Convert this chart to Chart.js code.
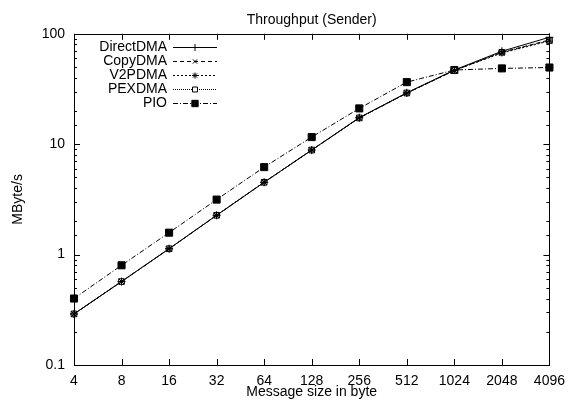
<!DOCTYPE html>
<html>
<head>
<meta charset="utf-8">
<script src="https://cdn.jsdelivr.net/npm/chart.js@4.4.1/dist/chart.umd.min.js"></script>
<style>
  html, body { margin: 0; padding: 0; background: #fff; }
  #wrap { width: 573px; height: 401px; }
</style>
</head>
<body>
<div id="wrap"><canvas id="chart" width="573" height="401"></canvas></div>
<script>
// ---------- DATA ----------
const sizes = ["4", "8", "16", "32", "64", "128", "256", "512", "1024", "2048", "4096"];
const directDMA = [0.29, 0.57, 1.13, 2.27, 4.52, 8.85, 17.4, 29.2, 47.0, 69.5, 93.0];
const copyDMA   = [0.29, 0.57, 1.13, 2.27, 4.52, 8.85, 17.3, 29.0, 46.5, 68.0, 88.0];
const v2pDMA    = [0.29, 0.57, 1.13, 2.27, 4.52, 8.85, 17.3, 29.0, 46.5, 67.0, 86.0];
const pexDMA    = [0.29, 0.57, 1.13, 2.27, 4.52, 8.85, 17.3, 29.1, 46.8, 68.0, 87.0];
const pio       = [0.40, 0.80, 1.58, 3.15, 6.2, 11.6, 21.1, 36.5, 47.0, 48.6, 49.5];

const FONT = "'Liberation Sans', Arial, Helvetica, sans-serif";

// ---------- DATASETS ----------
function series(label, data, dash, pointStyle, radius, fill) {
  return {
    label: label,
    data: data,
    borderColor: "#000",
    borderWidth: 1,
    borderDash: dash,
    pointStyle: pointStyle,
    pointRadius: radius,
    pointBorderColor: "#000",
    pointBorderWidth: 1,
    pointBackgroundColor: fill ? "#000" : "#fff",
    tension: 0,
    clip: false,
  };
}

const datasets = [
  series("DirectDMA", directDMA, [], "cross", 4, false),
  series("CopyDMA", copyDMA, [4, 3], "crossRot", 3.5, false),
  series("V2PDMA", v2pDMA, [2, 2], "star", 3.5, false),
  series("PEXDMA", pexDMA, [1, 1], "rect", 4, false),
  series("PIO", pio, [5, 2, 1, 2], "rect", 5, true),
];

// ---------- FRAME, INWARD TICKS, LEGEND ----------
const framePlugin = {
  id: "frame",
  afterDatasetsDraw(chart) {
    const ctx = chart.ctx;
    const a = chart.chartArea;
    const xs = chart.scales.x;
    const ys = chart.scales.y;
    ctx.save();
    ctx.strokeStyle = "#000";
    ctx.lineWidth = 1;
    ctx.setLineDash([]);
    ctx.beginPath();
    // x ticks, bottom and mirrored on top
    xs.ticks.forEach((t, i) => {
      const x = Math.round(xs.getPixelForTick(i)) + 0.5;
      ctx.moveTo(x, a.bottom); ctx.lineTo(x, a.bottom - 6);
      ctx.moveTo(x, a.top); ctx.lineTo(x, a.top + 6);
    });
    // y ticks, left and mirrored on right
    ys.ticks.forEach((t) => {
      const y = Math.round(ys.getPixelForValue(t.value)) + 0.5;
      const lg = Math.log10(t.value);
      const len = Math.abs(lg - Math.round(lg)) < 1e-6 ? 6 : 3;
      ctx.moveTo(a.left, y); ctx.lineTo(a.left + len, y);
      ctx.moveTo(a.right, y); ctx.lineTo(a.right - len, y);
    });
    ctx.stroke();
    ctx.strokeRect(Math.round(a.left) + 0.5, Math.round(a.top) + 0.5,
      Math.round(a.right - a.left), Math.round(a.bottom - a.top));

    // legend, top left inside the plot
    const textRight = a.left + 93;
    const lineStart = a.left + 99;
    const lineEnd = a.left + 143;
    ctx.font = "14px " + FONT;
    ctx.textAlign = "right";
    ctx.textBaseline = "middle";
    chart.data.datasets.forEach((ds, i) => {
      const y = Math.round(a.top + 13.5 + i * 13.9) + 0.5;
      ctx.fillStyle = "#000";
      ctx.fillText(ds.label, textRight, y);
      ctx.setLineDash(ds.borderDash);
      ctx.beginPath();
      ctx.moveTo(lineStart, y);
      ctx.lineTo(lineEnd, y);
      ctx.stroke();
      ctx.setLineDash([]);
      ctx.fillStyle = ds.pointBackgroundColor;
      Chart.helpers.drawPoint(ctx, {
        pointStyle: ds.pointStyle,
        radius: ds.pointRadius - 0.5,
        borderWidth: 1,
        rotation: 0,
      }, (lineStart + lineEnd) / 2, y);
    });
    ctx.restore();
  },
};

// ---------- CHART ----------
Chart.defaults.font.family = FONT;
Chart.defaults.font.size = 14;
Chart.defaults.color = "#000";

const chart = new Chart(document.getElementById("chart").getContext("2d"), {
  type: "line",
  data: { labels: sizes, datasets: datasets },
  options: {
    responsive: false,
    animation: false,
    devicePixelRatio: 1,
    layout: { padding: { top: 0, right: 17, bottom: 0, left: 0 } },
    plugins: {
      legend: { display: false },
      tooltip: { enabled: false },
      title: {
        display: true,
        text: "Throughput (Sender)",
        fullSize: false,
        color: "#000",
        font: { size: 14, weight: "normal" },
        padding: { top: 12, bottom: 5 },
      },
    },
    scales: {
      x: {
        type: "category",
        offset: false,
        grid: { display: false, drawTicks: false },
        border: { display: false },
        ticks: { padding: 8, maxRotation: 0, autoSkip: false, color: "#000" },
        title: {
          display: true,
          text: "Message size in byte",
          color: "#000",
          padding: { top: 0, bottom: 0 },
        },
        afterFit(scale) { scale.height = 36; },
      },
      y: {
        type: "logarithmic",
        min: 0.1,
        max: 100,
        grid: { display: false, drawTicks: false },
        border: { display: false },
        ticks: {
          padding: 9,
          autoSkip: false,
          color: "#000",
          callback(value) {
            const lg = Math.log10(value);
            if (Math.abs(lg - Math.round(lg)) > 1e-6) return "";
            return String(Math.round(value * 10) / 10);
          },
        },
        title: {
          display: true,
          text: "MByte/s",
          color: "#000",
          padding: { top: 10, bottom: 0 },
        },
        afterFit(scale) { scale.width = 74; },
      },
    },
  },
  plugins: [framePlugin],
});
</script>
</body>
</html>
